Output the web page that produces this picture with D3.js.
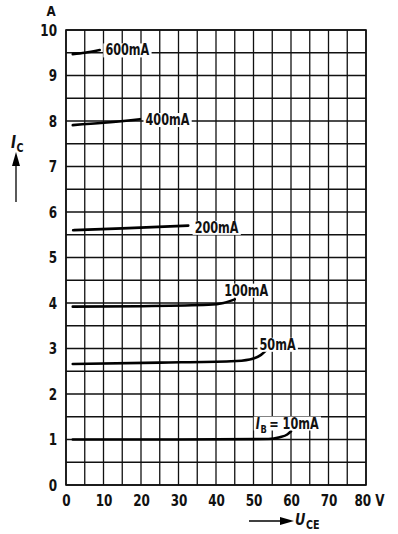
<!DOCTYPE html>
<html><head><meta charset="utf-8">
<script src="https://cdn.jsdelivr.net/npm/d3@7"></script>
<style>
body{margin:0;background:#fff;}
svg text{font-family:"DejaVu Sans",sans-serif;fill:#111;}
</style></head><body>
<svg id="c" width="398" height="534"></svg>
<script>
const xTicks = [0,10,20,30,40,50,60,70,80];
const xTickLabels = ["0","10","20","30","40","50","60","70","80 V"];
const yTicks = [0,1,2,3,4,5,6,7,8,9,10];
const yTickLabels = ["0","1","2","3","4","5","6","7","8","9","10"];
const seriesNames = ["600mA","400mA","200mA","100mA","50mA","10mA"];
const c600 = [[1.8,9.47],[5,9.5],[9,9.56]];
const c400 = [[1.8,7.91],[10,7.96],[19.7,8.04]];
const c200 = [[1.9,5.6],[15,5.64],[32.6,5.7]];
const c100 = [[1.8,3.92],[20,3.93],[38,3.96],[42,4.0],[45,4.08]];
const c50  = [[1.8,2.66],[25,2.69],[44,2.72],[49,2.76],[52,2.86],[53.5,2.97]];
const c10  = [[1.8,1.0],[30,1.0],[54,1.01],[57,1.05],[59,1.11],[60,1.18]];
const curves = [c600,c400,c200,c100,c50,c10];
// label anchor (left edge V, centre A)
const labelAt = [[10.5,9.56],[21.2,8.03],[34.3,5.66],[42.2,4.28],[51.6,3.09],[50.6,1.36]];

const svg = d3.select("#c");
const x = d3.scaleLinear().domain([0,80]).range([66,366]);
const y = d3.scaleLinear().domain([0,10]).range([485,30]);

function condense(sel, f){
  sel.each(function(){
    const L = this.getComputedTextLength();
    this.setAttribute("textLength", L*f);
    this.setAttribute("lengthAdjust","spacingAndGlyphs");
  });
}
// pieces: [text, size, italic, dy, gapAfter]
function pieceText(parent, x0, yb, pieces, f){
  let cx = x0; const nodes=[];
  pieces.forEach(([s,size,ital,dy,gap])=>{
    const t = parent.append("text").attr("x",cx).attr("y",yb+dy).attr("font-size",size)
      .attr("font-weight","bold").attr("font-style",ital?"italic":"normal").text(s);
    const L = t.node().getComputedTextLength();
    t.attr("textLength",L*f).attr("lengthAdjust","spacingAndGlyphs");
    cx += L*f + (gap||0);
    nodes.push(t);
  });
  return nodes;
}

// grid
const g = svg.append("g");
g.selectAll("line.v").data(d3.range(0,81,5)).join("line")
  .attr("x1",d=>x(d)).attr("x2",d=>x(d)).attr("y1",y(0)).attr("y2",y(10))
  .attr("stroke","#111").attr("stroke-width",1.3);
g.selectAll("line.h").data(d3.range(0,10.01,0.5)).join("line")
  .attr("y1",d=>y(d)).attr("y2",d=>y(d)).attr("x1",x(0)).attr("x2",x(80))
  .attr("stroke","#111").attr("stroke-width",1.3);
g.append("rect").attr("x",x(0)).attr("y",y(10)).attr("width",x(80)-x(0)).attr("height",y(0)-y(10))
  .attr("fill","none").attr("stroke","#111").attr("stroke-width",1.6);

const xa = svg.append("g").attr("transform",`translate(0,${y(0)})`)
  .call(d3.axisBottom(x).tickValues(xTicks).tickFormat((d,i)=>xTickLabels[i]).tickSize(0).tickPadding(10));
xa.select(".domain").remove();
xa.selectAll("text").attr("font-size",16).attr("font-weight","bold").attr("font-family",null).attr("fill","#111");
xa.selectAll(".tick").filter(d=>d===80).select("text").attr("dx",3);
condense(xa.selectAll("text"),0.75);

const ya = svg.append("g").attr("transform",`translate(${x(0)},0)`)
  .call(d3.axisLeft(y).tickValues(yTicks).tickFormat((d,i)=>yTickLabels[i]).tickSize(0).tickPadding(9));
ya.select(".domain").remove();
ya.selectAll("text").attr("font-size",16).attr("font-weight","bold").attr("font-family",null).attr("fill","#111");
condense(ya.selectAll("text"),0.75);

const aT = svg.append("text").attr("x",51).attr("y",16).attr("text-anchor","middle")
  .attr("font-size",14).attr("font-weight","bold").text("A");
condense(aT,0.85);

// curves
const line = d3.line().x(d=>x(d[0])).y(d=>y(d[1])).curve(d3.curveMonotoneX);
svg.selectAll("path.curve").data(curves).join("path")
  .attr("d",line).attr("fill","none").attr("stroke","#000").attr("stroke-width",2.6).attr("stroke-linecap","round");

// labels
seriesNames.forEach((n,i)=>{
  const [lv,la] = labelAt[i];
  const lg = svg.append("g");
  const bgr = lg.append("rect").attr("fill","#fff");
  let nodes;
  if(n==="10mA"){
    nodes = pieceText(lg, x(lv), y(la)+5.4, [["I",15,true,0,0.5],["B",11,false,4,2.5],["= 10mA",15,false,0,0]], 0.75);
  } else {
    nodes = pieceText(lg, x(lv), y(la)+5.4, [[n,15,false,0,0]], 0.75);
  }
  const first = nodes[0].node().getBBox(), last = nodes[nodes.length-1].node().getBBox();
  const x0 = first.x, x1 = last.x + last.width;
  bgr.attr("x",x0-2).attr("y",first.y+2).attr("width",x1-x0+4).attr("height",first.height-4);
});

// I_C label + arrow
pieceText(svg, 11, 148, [["I",17,true,0,0.5],["C",12,false,4,0]], 0.8);
svg.append("line").attr("x1",16).attr("x2",16).attr("y1",202).attr("y2",162).attr("stroke","#000").attr("stroke-width",1.3);
svg.append("path").attr("d","M16,152 L12,166 L20,166 Z").attr("fill","#000");

// U_CE label + arrow
svg.append("line").attr("x1",249).attr("x2",282).attr("y1",521).attr("y2",521).attr("stroke","#000").attr("stroke-width",1.3);
svg.append("path").attr("d","M294,521 L280,517 L280,525 Z").attr("fill","#000");
pieceText(svg, 295, 525, [["U",16,true,0,0.5],["CE",12,false,4,0]], 0.8);
</script></body></html>
